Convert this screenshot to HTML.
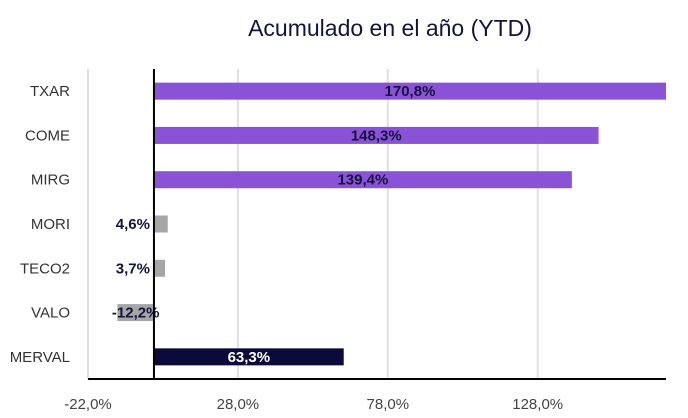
<!DOCTYPE html>
<html><head><meta charset="utf-8"><style>
body{margin:0;background:#fff;}
svg{display:block;font-family:"Liberation Sans",sans-serif;}
</style></head><body>
<svg id="c" width="688" height="418">
<text x="390" y="36" text-anchor="middle" font-size="23" fill="#14133b">Acumulado en el año (YTD)</text>
<g id="grid"></g><g id="bars"></g><g id="labels"></g>
</svg>
<script>
const categories=["TXAR","COME","MIRG","MORI","TECO2","VALO","MERVAL"];
const values=[170.8,148.3,139.4,4.6,3.7,-12.2,63.3];
const valueLabels=["170,8%","148,3%","139,4%","4,6%","3,7%","-12,2%","63,3%"];
const ticks=[-22,28,78,128];
const tickLabels=["-22,0%","28,0%","78,0%","128,0%"];
const colors=["#8a52d6","#8a52d6","#8a52d6","#a6a6a6","#a6a6a6","#a6a6a6","#0c0a3a"];
const NS="http://www.w3.org/2000/svg";
const svg=document.getElementById('c');
const x0=88,x1=666,vmin=-22,vmax=170.8;
const X=v=>x0+(v-vmin)/(vmax-vmin)*(x1-x0);
const yTop=69,yBottom=379,rowH=(yBottom-yTop)/categories.length;
const Y=i=>yTop+rowH*(i+0.5);
function mk(t,a,p){const e=document.createElementNS(NS,t);for(const k in a)e.setAttribute(k,a[k]);p.appendChild(e);return e;}
const G=document.getElementById('grid'),B=document.getElementById('bars'),L=document.getElementById('labels');
ticks.forEach((t,i)=>{
 const g=mk('line',{x1:X(t),x2:X(t),y1:yTop,y2:yBottom,stroke:'#e0e0e0','stroke-width':2},G);
 
 
 const tx=mk('text',{x:X(t),y:yBottom+30,'text-anchor':'middle','font-size':15,fill:'#444'},G);
 tx.textContent=tickLabels[i];
 
 
});
categories.forEach((c,i)=>{
 const y=Y(i),a=X(Math.min(0,values[i])),b=X(Math.max(0,values[i]));
 const r=mk('rect',{x:a,y:y-8.5,width:b-a,height:17,fill:colors[i]},B);
 
 
 const cl=mk('text',{x:70,y:y+5,'text-anchor':'end','font-size':15,fill:'#333'},L);
 cl.textContent=c;
 
 
 let lx=(a+b)/2,anchor='middle';
 if(b-a<30){lx=X(0)-4;anchor='end';}
 const vl=mk('text',{x:lx,y:y+5,'text-anchor':anchor,'font-size':15,'font-weight':'bold',fill:i==6?'#fff':'#14133b'},L);
 vl.textContent=valueLabels[i];
 
 
});
const z=mk('line',{x1:X(0),x2:X(0),y1:yTop,y2:yBottom,stroke:'#000','stroke-width':2},L);


const xa=mk('line',{x1:x0,x2:x1,y1:yBottom,y2:yBottom,stroke:'#000','stroke-width':2},L);


</script>
</body></html>
